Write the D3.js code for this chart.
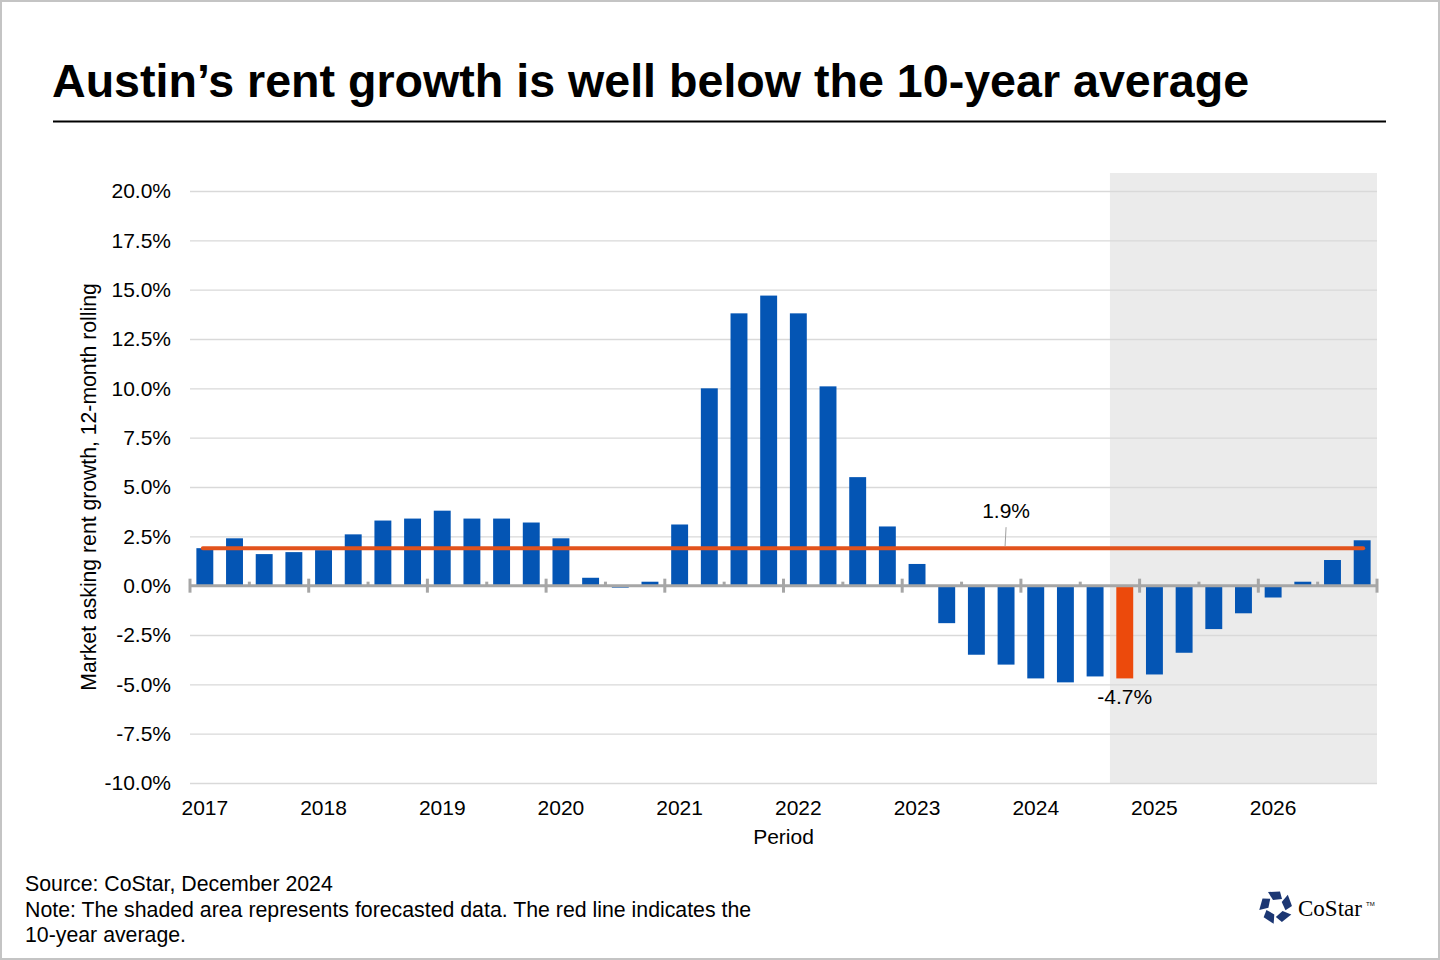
<!DOCTYPE html>
<html>
<head>
<meta charset="utf-8">
<script src="https://d3js.org/d3.v7.min.js"></script>
<style>
  body { margin: 0; background: #fff; }
  text { font-family: "Liberation Sans", Arial, sans-serif; fill: #000; }
</style>
</head>
<body>
<div id="chart"></div>
<script>
// Data
var years = ["2017", "2018", "2019", "2020", "2021", "2022", "2023", "2024", "2025", "2026"];
var quarters = ["Q1", "Q2", "Q3", "Q4"];
var periods = years.flatMap(function(y) { return quarters.map(function(q) { return y + " " + q; }); });
var growth = [
  1.9, 2.4, 1.6, 1.7,
  1.8, 2.6, 3.3, 3.4,
  3.8, 3.4, 3.4, 3.2,
  2.4, 0.4, -0.1, 0.2,
  3.1, 10.0, 13.8, 14.7,
  13.8, 10.1, 5.5, 3.0,
  1.1, -1.9, -3.5, -4.0,
  -4.7, -4.9, -4.6, -4.7,
  -4.5, -3.4, -2.2, -1.4,
  -0.6, 0.2, 1.3, 2.3
];
var tenYearAverage = 1.9;
var highlightPeriod = "2024 Q4";
var forecastStart = "2024 Q4";
var avgLabelAt = "2023 Q4";
var yTicks = [-10, -7.5, -5, -2.5, 0, 2.5, 5, 7.5, 10, 12.5, 15, 17.5, 20];

var data = periods.map(function(p, i) { return {period: p, value: growth[i]}; });

var W = 1440, H = 960;
var plotLeft = 190, plotRight = 1377, plotTop = 191, plotBottom = 783;

var svg = d3.select("#chart").append("svg")
  .attr("width", W)
  .attr("height", H);

svg.append("rect")
  .attr("width", W).attr("height", H)
  .attr("fill", "#fff")
  .attr("stroke", "#c4c4c4")
  .attr("stroke-width", 4);

// Title
svg.append("text")
  .attr("x", 52).attr("y", 97)
  .style("font-size", "46.6px")
  .style("font-weight", "bold")
  .text("Austin\u2019s rent growth is well below the 10-year average");

svg.append("line")
  .attr("x1", 53).attr("x2", 1386)
  .attr("y1", 121.5).attr("y2", 121.5)
  .attr("stroke", "#000").attr("stroke-width", 2);

// Scales
var x = d3.scaleBand()
  .domain(periods)
  .range([plotLeft, plotRight])
  .paddingInner(0.43)
  .paddingOuter(0.215);

var y = d3.scaleLinear()
  .domain([-10, 20])
  .range([plotBottom, plotTop]);

var gap = (x.step() - x.bandwidth()) / 2;

// Forecast shading
svg.append("rect")
  .attr("x", x(forecastStart) - gap)
  .attr("y", y(20) - 18)
  .attr("width", plotRight - (x(forecastStart) - gap))
  .attr("height", y(-10) - y(20) + 18)
  .attr("fill", "#ebebeb");

// Y axis with gridlines
var yAxis = svg.append("g")
  .attr("transform", "translate(" + plotLeft + ",0)")
  .call(d3.axisLeft(y)
    .tickValues(yTicks)
    .tickSize(-(plotRight - plotLeft))
    .tickPadding(19)
    .tickFormat(function(d) { return d.toFixed(1) + "%"; }));
yAxis.select(".domain").remove();
yAxis.selectAll("line").attr("stroke", "#d9d9d9").attr("stroke-width", 1.3);
yAxis.selectAll("text")
  .style("font-size", "21px")
  .style("font-family", "'Liberation Sans', Arial, sans-serif")
  .attr("fill", "#000");

// Bars
svg.selectAll(".bar")
  .data(data)
  .enter()
  .append("rect")
  .attr("class", "bar")
  .attr("x", function(d) { return x(d.period); })
  .attr("width", x.bandwidth())
  .attr("y", function(d) { return y(Math.max(0, d.value)); })
  .attr("height", function(d) { return Math.abs(y(d.value) - y(0)); })
  .attr("fill", function(d) { return d.period == highlightPeriod ? "#ec4a0c" : "#0455b4"; });

// X axis line and ticks
var tickX = d3.scaleLinear().domain([0, periods.length]).range([plotLeft, plotRight]);
svg.append("line")
  .attr("x1", plotLeft).attr("x2", plotRight)
  .attr("y1", y(0)).attr("y2", y(0))
  .attr("stroke", "#a6a6a6").attr("stroke-width", 3);

svg.selectAll(".major")
  .data(d3.range(0, periods.length + 1, 4))
  .enter()
  .append("line")
  .attr("x1", function(d) { return tickX(d); })
  .attr("x2", function(d) { return tickX(d); })
  .attr("y1", y(0) - 7).attr("y2", y(0) + 7)
  .attr("stroke", "#a6a6a6").attr("stroke-width", 3);

svg.selectAll(".minor")
  .data(d3.range(2, periods.length, 4))
  .enter()
  .append("line")
  .attr("x1", function(d) { return tickX(d); })
  .attr("x2", function(d) { return tickX(d); })
  .attr("y1", y(0) - 4).attr("y2", y(0))
  .attr("stroke", "#a6a6a6").attr("stroke-width", 3);

// Year labels under first quarter
svg.selectAll(".year")
  .data(years)
  .enter()
  .append("text")
  .attr("x", function(d) { return x(d + " Q1") + x.bandwidth() / 2; })
  .attr("y", 815)
  .attr("text-anchor", "middle")
  .style("font-size", "21px")
  .text(function(d) { return d; });

// 10-year average line
var first = periods[0], last = periods[periods.length - 1];
svg.append("line")
  .attr("x1", x(first) + x.bandwidth() / 2 - 2)
  .attr("x2", x(last) + x.bandwidth() / 2 + 1)
  .attr("y1", y(tenYearAverage)).attr("y2", y(tenYearAverage))
  .attr("stroke", "#e2531d").attr("stroke-width", 4)
  .attr("stroke-linecap", "round");

var avgX = x(avgLabelAt) + x.bandwidth() / 2;
svg.append("line")
  .attr("x1", avgX).attr("x2", avgX - 1)
  .attr("y1", y(tenYearAverage) - 21).attr("y2", y(tenYearAverage) - 2)
  .attr("stroke", "#a0a0a0").attr("stroke-width", 1);
svg.append("text")
  .attr("x", avgX)
  .attr("y", y(tenYearAverage) - 30)
  .attr("text-anchor", "middle")
  .style("font-size", "21px")
  .text(tenYearAverage.toFixed(1) + "%");

// Highlight label
var hl = data.filter(function(d) { return d.period == highlightPeriod; })[0];
svg.append("text")
  .attr("x", x(hl.period) + x.bandwidth() / 2)
  .attr("y", y(hl.value) + 26)
  .attr("text-anchor", "middle")
  .style("font-size", "21px")
  .text(hl.value.toFixed(1) + "%");

// Axis titles
svg.append("text")
  .attr("x", (plotLeft + plotRight) / 2)
  .attr("y", 844)
  .attr("text-anchor", "middle")
  .style("font-size", "21px")
  .text("Period");

svg.append("text")
  .attr("transform", "translate(96," + 487 + ") rotate(-90)")
  .attr("text-anchor", "middle")
  .style("font-size", "21.2px")
  .text("Market asking rent growth, 12-month rolling");

// Footnotes
var notes = [
  "Source: CoStar, December 2024",
  "Note: The shaded area represents forecasted data. The red line indicates the",
  "10-year average."
];
svg.selectAll(".note")
  .data(notes)
  .enter()
  .append("text")
  .attr("x", 25)
  .attr("y", function(d, i) { return 891 + i * 25.5; })
  .style("font-size", "21.3px")
  .text(function(d) { return d; });

// CoStar logo
var logo = svg.append("g").attr("transform", "translate(1276,907)");
d3.range(5).forEach(function(i) {
  logo.append("path")
    .attr("d", "M-8,-15 L4,-15.5 L6,-8 L-3,-7 Z")
    .attr("transform", "rotate(" + (i * 72) + ")")
    .attr("fill", "#1c3773");
});
svg.append("text")
  .attr("x", 1298).attr("y", 916)
  .style("font-family", "'Liberation Serif', 'DejaVu Serif', serif")
  .style("font-size", "23px")
  .attr("fill", "#111")
  .text("CoStar");
svg.append("text")
  .attr("x", 1366).attr("y", 906)
  .style("font-size", "6px")
  .attr("fill", "#333")
  .text("TM");
</script>
</body>
</html>
